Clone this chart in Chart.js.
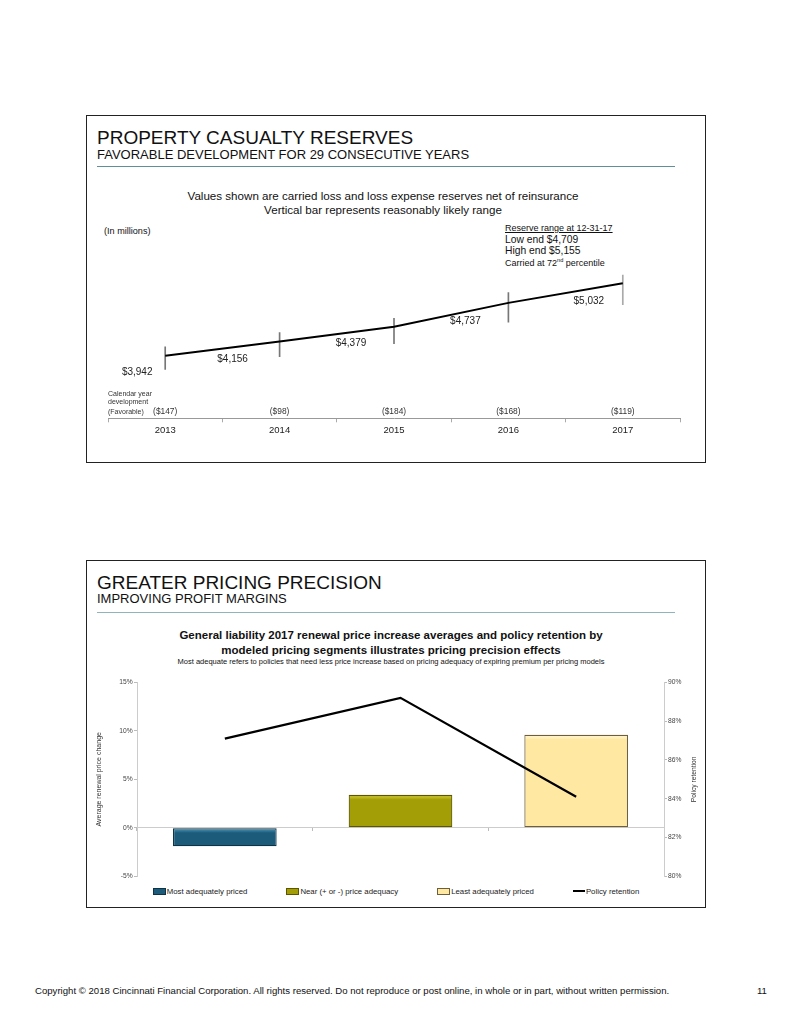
<!DOCTYPE html>
<html>
<head>
<meta charset="utf-8">
<title>Property casualty reserves / Greater pricing precision</title>
<script src="https://cdn.jsdelivr.net/npm/chart.js@4.4.1/dist/chart.umd.min.js"></script>
<style>
    html, body { margin: 0; padding: 0; background: #fff; }
    body {
        width: 791px; height: 1024px; position: relative; overflow: hidden;
        font-family: "Liberation Sans", Arial, Helvetica, sans-serif; color: #111;
    }
    .panel { position: absolute; left: 86px; width: 620px; box-sizing: border-box; border: 1.6px solid #222; }
    .t { position: absolute; white-space: nowrap; line-height: 1; }
    .c { text-align: center; }
    .rule { position: absolute; left: 97px; width: 578px; height: 1.3px; background: #5f8f99; }
    canvas { position: absolute; }
    #legend2 {
        position: absolute; left: 88px; top: 886px; width: 616px; height: 10px;
        display: flex; justify-content: center; align-items: center; gap: 39px;
        font-size: 7.8px; color: #222;
    }
    #legend2 .item { display: flex; align-items: center; white-space: nowrap; }
    #legend2 .box { display: inline-block; width: 11px; height: 5px; margin-right: 1px; }
    #legend2 .ln { display: inline-block; width: 12px; height: 2.4px; background: #000; margin-right: 1px; }
</style>
</head>
<body>

<!-- painel de cima -->
<div class="panel" style="top:115px; height:348px;"></div>
<div class="t" style="left:97px; top:127.5px; font-size:19px;">PROPERTY CASUALTY RESERVES</div>
<div class="t" style="left:97px; top:148px; font-size:13px;">FAVORABLE DEVELOPMENT FOR 29 CONSECUTIVE YEARS</div>
<div class="rule" style="top:166px;"></div>

<div class="t c" style="left:133px; width:500px; top:190.2px; font-size:11.6px;">Values shown are carried loss and loss expense reserves net of reinsurance</div>
<div class="t c" style="left:133px; width:500px; top:204.2px; font-size:11.6px;">Vertical bar represents reasonably likely range</div>
<div class="t" style="left:104px; top:227.3px; font-size:9.1px;">(In millions)</div>
<div class="t" style="left:505px; top:223.9px; font-size:9px; text-decoration:underline;">Reserve range at 12-31-17</div>
<div class="t" style="left:505px; top:235.3px; font-size:10.3px;">Low end $4,709</div>
<div class="t" style="left:505px; top:246.3px; font-size:10.3px;">High end $5,155</div>
<div class="t" style="left:505px; top:258.4px; font-size:9px;">Carried at 72<sup style="font-size:5.6px; vertical-align:4px;">nd</sup> percentile</div>

<canvas id="reservesChart" width="616" height="192" style="left:88px; top:268px;"></canvas>

<!-- painel de baixo -->
<div class="panel" style="top:560px; height:348px;"></div>
<div class="t" style="left:97px; top:573px; font-size:19px;">GREATER PRICING PRECISION</div>
<div class="t" style="left:97px; top:592px; font-size:13px;">IMPROVING PROFIT MARGINS</div>
<div class="rule" style="top:612px; background:#8fb4bb;"></div>

<div class="t c" style="left:91px; width:600px; top:630.3px; font-size:11.5px; font-weight:bold;">General liability 2017 renewal price increase averages and policy retention by</div>
<div class="t c" style="left:91px; width:600px; top:645.3px; font-size:11.5px; font-weight:bold;">modeled pricing segments illustrates pricing precision effects</div>
<div class="t c" style="left:91px; width:600px; top:657.9px; font-size:7.5px;">Most adequate refers to policies that need less price increase based on pricing adequacy of expiring premium per pricing models</div>

<canvas id="pricingChart" width="616" height="213" style="left:88px; top:672px;"></canvas>
<div id="legend2"></div>

<div class="t" style="left:35px; top:985.5px; font-size:9.6px;">Copyright © 2018 Cincinnati Financial Corporation. All rights reserved. Do not reproduce or post online, in whole or in part, without written permission.</div>
<div class="t" style="left:757px; top:985.5px; font-size:9.6px;">11</div>

<script>
// Dados do gráfico de reservas (em milhões)
const years = ['2013', '2014', '2015', '2016', '2017'];
const reserves = [3942, 4156, 4379, 4737, 5032];
const rangeLow = [3737, 3927, 4123, 4445, 4709];
const rangeHigh = [4077, 4289, 4505, 4891, 5155];
const development = [-147, -98, -184, -168, -119];

// Dados do gráfico de precificação
const segments = ['Most adequately priced', 'Near (+ or -) price adequacy', 'Least adequately priced'];
const priceChange = [-1.9, 3.4, 9.6];
const retention = [87.1, 89.2, 84.1];
const priceTicks = [-5, 0, 5, 10, 15];
const retentionTicks = [80, 82, 84, 86, 88, 90];

const FONT = '"Liberation Sans", Arial, Helvetica, sans-serif';
Chart.defaults.font.family = FONT;
Chart.defaults.animation = false;

document.addEventListener('DOMContentLoaded', function() {
    renderReservesChart();
    renderPricingChart();
});

function money(v) {
    return '$' + v.toLocaleString('en-US');
}

// Rótulos de valor e a linha de desenvolvimento do ano
const reserveLabels = {
    id: 'reserveLabels',
    afterDatasetsDraw(chart) {
        const ctx = chart.ctx;
        const area = chart.chartArea;
        const xScale = chart.scales.x;
        const points = chart.getDatasetMeta(0).data;
        const offsets = [[-28, 17], [-47, 18], [-43, 17], [-43, 18], [-34, 18]];

        ctx.save();
        ctx.fillStyle = '#222';
        ctx.font = '10px ' + FONT;
        ctx.textAlign = 'center';
        ctx.textBaseline = 'middle';
        points.forEach((pt, i) => {
            ctx.fillText(money(reserves[i]), pt.x + offsets[i][0], pt.y + offsets[i][1]);
        });

        ctx.textBaseline = 'alphabetic';
        ctx.font = '8.4px ' + FONT;
        ctx.fillStyle = '#333';
        development.forEach((v, i) => {
            ctx.fillText('($' + Math.abs(v) + ')', xScale.getPixelForValue(i), area.bottom - 4.5);
        });

        ctx.textAlign = 'left';
        ctx.font = '7px ' + FONT;
        ctx.fillText('Calendar year', area.left, area.bottom - 22.5);
        ctx.fillText('development', area.left, area.bottom - 14);
        ctx.fillText('(Favorable)', area.left, area.bottom - 4.5);
        ctx.restore();
    }
};

function renderReservesChart() {
    const ctx = document.getElementById('reservesChart').getContext('2d');
    return new Chart(ctx, {
        type: 'bar',
        data: {
            labels: years,
            datasets: [{
                type: 'line',
                data: reserves,
                borderColor: '#000',
                borderWidth: 2,
                pointRadius: 0,
                tension: 0,
                order: 0
            }, {
                type: 'bar',
                data: years.map((y, i) => [rangeLow[i], rangeHigh[i]]),
                backgroundColor: ['#777', '#777', '#777', '#777', '#aaa'],
                barThickness: 1,
                order: 1
            }]
        },
        options: {
            responsive: false,
            layout: { padding: { left: 20, right: 24, top: 4.1, bottom: 22.3 } },
            plugins: { legend: { display: false }, tooltip: { enabled: false } },
            scales: {
                x: {
                    offset: true,
                    grid: { display: true, drawOnChartArea: false, drawTicks: true, tickLength: 4, offset: true, color: '#aaa' },
                    border: { display: true, color: '#999', width: 1 },
                    ticks: { font: { size: 9.5 }, color: '#222', padding: 2 }
                },
                y: { display: false, min: 3000, max: 5200 }
            }
        },
        plugins: [reserveLabels]
    });
}

// Título do eixo secundário, girado como no original
const retentionTitle = {
    id: 'retentionTitle',
    afterDraw(chart) {
        const ctx = chart.ctx;
        const area = chart.chartArea;
        ctx.save();
        ctx.translate(chart.scales.y2.right - 10, (area.top + area.bottom) / 2);
        ctx.rotate(-Math.PI / 2);
        ctx.font = '6.7px ' + FONT;
        ctx.fillStyle = '#333';
        ctx.textAlign = 'center';
        ctx.textBaseline = 'middle';
        ctx.fillText('Policy retention', 0, 0);
        ctx.restore();
    }
};

// Gradiente leve no topo das barras (efeito de relevo do original)
function barFill(base, light) {
    return function(context) {
        const chart = context.chart;
        const y = chart.scales.y;
        if (!y || context.dataIndex === undefined) return base[0];
        const i = context.dataIndex;
        const v = priceChange[i];
        const top = y.getPixelForValue(Math.max(v, 0));
        const bottom = y.getPixelForValue(Math.min(v, 0));
        if (!isFinite(top) || !isFinite(bottom) || bottom - top < 1) return base[i];
        const g = chart.ctx.createLinearGradient(0, top, 0, bottom);
        const edge = Math.min(5 / (bottom - top), 0.3);
        g.addColorStop(0, base[i]);
        g.addColorStop(edge * 0.4, light[i]);
        g.addColorStop(edge, base[i]);
        g.addColorStop(1, base[i]);
        return g;
    };
}

function renderPricingChart() {
    const barColors = ['#1d5b7b', '#a39e05', '#fee8a2'];
    const barLights = ['#3f86a8', '#c4be2a', '#fff3c8'];
    const barBorders = ['#0e3346', '#5c5600', '#6e5f3c'];
    const ctx = document.getElementById('pricingChart').getContext('2d');
    const chart = new Chart(ctx, {
        type: 'bar',
        data: {
            labels: segments,
            datasets: [{
                type: 'bar',
                label: 'Average renewal price change',
                data: priceChange,
                backgroundColor: barFill(barColors, barLights),
                borderColor: barBorders,
                borderWidth: 1.2,
                borderSkipped: false,
                barPercentage: 0.59,
                categoryPercentage: 1,
                yAxisID: 'y',
                order: 1
            }, {
                type: 'line',
                label: 'Policy retention',
                data: retention,
                borderColor: '#000',
                borderWidth: 2.2,
                pointRadius: 0,
                tension: 0,
                yAxisID: 'y2',
                order: 0
            }]
        },
        options: {
            responsive: false,
            layout: { padding: { left: 0, right: 0, top: 10.3, bottom: 8.7 } },
            plugins: { legend: { display: false }, tooltip: { enabled: false } },
            scales: {
                x: {
                    position: { y: 0 },
                    offset: true,
                    grid: { drawOnChartArea: false, tickLength: 3, offset: true, color: '#bbb' },
                    border: { color: '#ccc' },
                    ticks: { display: false }
                },
                y: {
                    position: 'left',
                    min: priceTicks[0],
                    max: priceTicks[priceTicks.length - 1],
                    afterBuildTicks: s => { s.ticks = priceTicks.map(v => ({ value: v })); },
                    afterFit: s => { s.width = 49; },
                    ticks: { callback: v => v + '%', font: { size: 6.7 }, color: '#444', padding: 1.3 },
                    grid: { drawOnChartArea: false, tickLength: 3, color: '#bbb' },
                    border: { color: '#ccc' },
                    title: { display: true, text: 'Average renewal price change', font: { size: 7 }, color: '#333', padding: { top: 7 } }
                },
                y2: {
                    position: 'right',
                    min: retentionTicks[0],
                    max: retentionTicks[retentionTicks.length - 1],
                    afterBuildTicks: s => { s.ticks = retentionTicks.map(v => ({ value: v })); },
                    afterFit: s => { s.width = 40; },
                    ticks: { callback: v => v + '%', font: { size: 6.7 }, color: '#444', padding: 1 },
                    grid: { drawOnChartArea: false, tickLength: 3, color: '#bbb' },
                    border: { color: '#ccc' }
                }
            }
        },
        plugins: [retentionTitle]
    });
    renderLegend(chart, barColors, barBorders);
    return chart;
}

// Legenda em HTML montada a partir dos dados do gráfico
function renderLegend(chart, colors, borders) {
    const container = document.getElementById('legend2');
    const bars = chart.data.labels.map((label, i) => `
        <span class="item"><span class="box" style="background:${colors[i]}; border:1px solid ${borders[i]}"></span>${label}</span>
    `).join('');
    const line = `<span class="item"><span class="ln"></span>${chart.data.datasets[1].label}</span>`;
    container.innerHTML = bars + line;
}
</script>
</body>
</html>
